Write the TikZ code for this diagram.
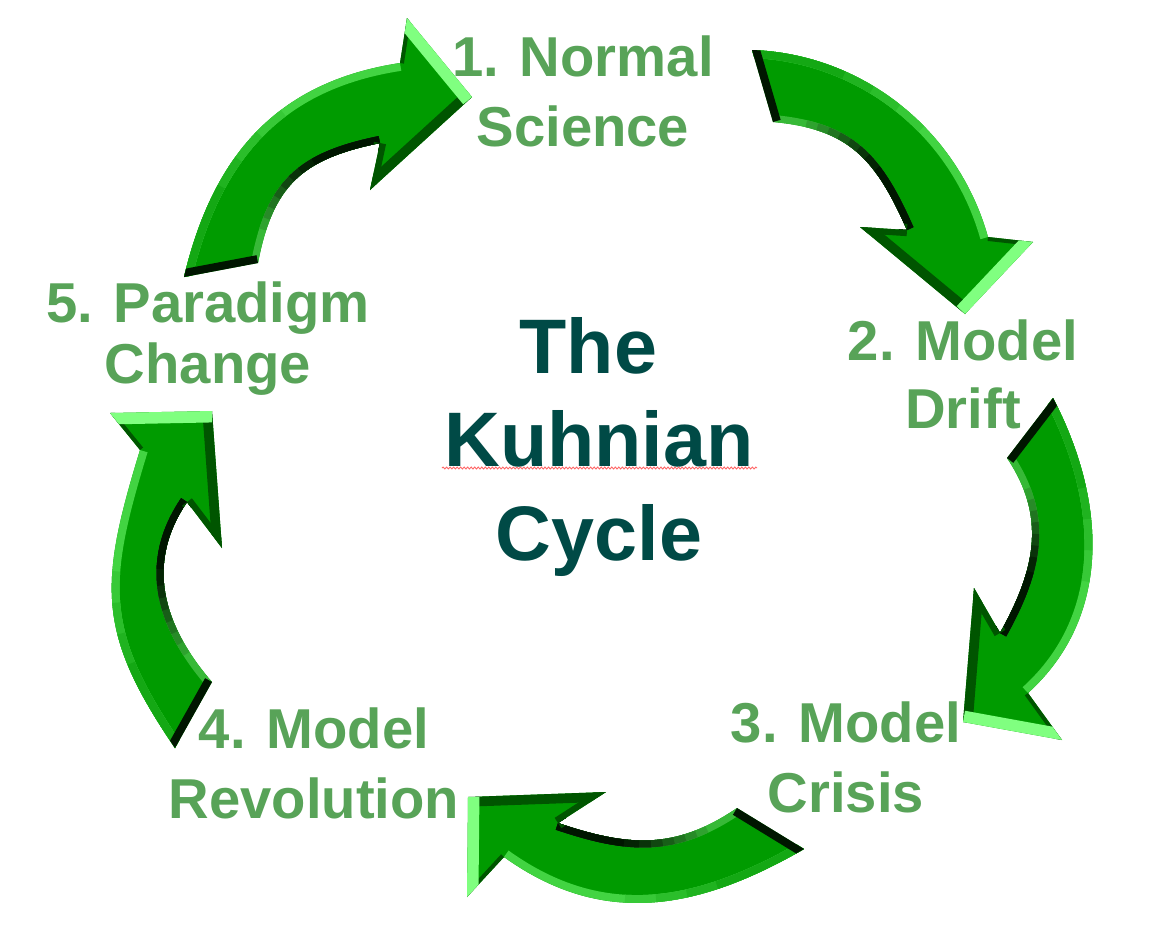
\documentclass[tikz,border=0pt]{standalone}
\usepackage{fontspec}
\setmainfont{Liberation Sans}
\usetikzlibrary{decorations.pathmorphing}
\definecolor{gmain}{RGB}{0,155,0}
\definecolor{glight}{RGB}{128,255,128}
\definecolor{gouter}{RGB}{66,212,66}
\definecolor{gouterdim}{RGB}{20,168,20}
\definecolor{ginA}{RGB}{55,185,55}
\definecolor{ginD}{RGB}{0,22,0}
\definecolor{gdark}{RGB}{0,85,0}
\definecolor{gtail}{RGB}{0,22,0}
\definecolor{labelgreen}{RGB}{88,163,88}
\definecolor{titleteal}{RGB}{0,74,70}
% #1 prefix, #2 inner edge length (pt), #3 outer edge length (pt)
\newcommand\kuhnarrow[3]{%
  \fill[gmain] (#1To) .. controls (#1C1) and (#1C2) .. (#1Ho) -- (#1Ob) -- (#1Tip) -- (#1Ib) -- (#1Hi) .. controls (#1D1) and (#1D2) .. (#1Ti) -- cycle;
  \begin{scope}
    \clip (#1To) .. controls (#1C1) and (#1C2) .. (#1Ho) -- (#1Ob) -- (#1Tip) -- (#1Ib) -- (#1Hi) .. controls (#1D1) and (#1D2) .. (#1Ti) -- cycle;
    \draw[gouter, line width=9pt] (#1To) .. controls (#1C1) and (#1C2) .. (#1Ho);
    \foreach \kf/\kp in {0.60/25, 0.50/50, 0.40/75, 0.30/100} {
      \pgfmathsetmacro\kuhnL{\kf*#3}
      \draw[gouterdim!\kp!gouter, line width=9pt, dash pattern=on \kuhnL pt off 3000pt] (#1To) .. controls (#1C1) and (#1C2) .. (#1Ho);
    }
    \draw[ginA, line width=8pt] (#1Hi) .. controls (#1D1) and (#1D2) .. (#1Ti);
    \foreach \kf/\kp in {0.80/14, 0.74/28, 0.68/42, 0.62/56, 0.56/70, 0.50/82, 0.44/92, 0.36/100} {
      \pgfmathsetmacro\kuhnL{\kf*#2}
      \draw[ginD!\kp!ginA, line width=8pt, dash pattern=on \kuhnL pt off 3000pt] (#1Hi) .. controls (#1D1) and (#1D2) .. (#1Ti);
    }
    \draw[gtail, line width=9pt] (#1Ti) -- (#1To);
    \draw[gdark, line width=4.5pt] (#1Ho) -- (#1Ob);
    \draw[gdark, line width=7pt] (#1Ib) -- (#1Hi);
    \draw[gdark, line width=11pt] (#1Tip) -- (#1Ib);
    \draw[glight, line width=13pt] (#1Ob) -- (#1Tip);
  \end{scope}}
\tikzset{
  stagelabel/.style={text=labelgreen, align=center, anchor=base, inner sep=0pt},
  cycletitle/.style={text=titleteal, align=center, anchor=base, inner sep=0pt,
    font=\fontsize{44pt}{53.2pt}\selectfont\bfseries},
}
\begin{document}
\begin{tikzpicture}[x=0.02cm, y=-0.02cm]
\fill[white] (0,0) rectangle (1163,931);
\useasboundingbox (0,0) rectangle (1163,931);
% arrow 1: Paradigm Change -> Normal Science
\coordinate (aTo) at (184,277); \coordinate (aC1) at (213,156); \coordinate (aC2) at (276,82);
\coordinate (aHo) at (400,63); \coordinate (aOb) at (407,18); \coordinate (aTip) at (472,97);
\coordinate (aIb) at (370,190); \coordinate (aHi) at (380,143); \coordinate (aD1) at (302,159);
\coordinate (aD2) at (273,185); \coordinate (aTi) at (258,263);
% arrow 2: Normal Science -> Model Drift
\coordinate (bTo) at (752,50); \coordinate (bC1) at (863,54); \coordinate (bC2) at (958,130);
\coordinate (bHo) at (988,237); \coordinate (bOb) at (1033,242); \coordinate (bTip) at (965,314);
\coordinate (bIb) at (860,227); \coordinate (bHi) at (907,230); \coordinate (bD1) at (876,160);
\coordinate (bD2) at (850,129); \coordinate (bTi) at (773,122);
% arrow 3: Model Drift -> Model Crisis
\coordinate (cTo) at (1053,398); \coordinate (cC1) at (1106,500); \coordinate (cC2) at (1113,616);
\coordinate (cHo) at (1028,693); \coordinate (cOb) at (1062,740); \coordinate (cTip) at (963,722);
\coordinate (cIb) at (974,588); \coordinate (cHi) at (1000,633); \coordinate (cD1) at (1035,570);
\coordinate (cD2) at (1047,518); \coordinate (cTi) at (1007,458);
% arrow 4: Model Crisis -> Model Revolution
\coordinate (dTo) at (804,849); \coordinate (dC1) at (698,910); \coordinate (dC2) at (603,928);
\coordinate (dHo) at (504,857); \coordinate (dOb) at (467,897); \coordinate (dTip) at (468,797);
\coordinate (dIb) at (606,792); \coordinate (dHi) at (558,823); \coordinate (dD1) at (629,847);
\coordinate (dD2) at (675,850); \coordinate (dTi) at (737,808);
% arrow 5: Model Revolution -> Paradigm Change
\coordinate (eTo) at (175,748); \coordinate (eC1) at (96,632); \coordinate (eC2) at (99,584);
\coordinate (eHo) at (140,450); \coordinate (eOb) at (110,413); \coordinate (eTip) at (212,411);
\coordinate (eIb) at (222,548); \coordinate (eHi) at (187,502); \coordinate (eD1) at (145,564);
\coordinate (eD2) at (163,625); \coordinate (eTi) at (212,682);
\kuhnarrow{a}{108.7}{187}
\kuhnarrow{b}{107.5}{183}
\kuhnarrow{c}{107}{181}
\kuhnarrow{d}{108}{180}
\kuhnarrow{e}{114}{182}
% labels (anchored at the baseline of the last line)
\node[stagelabel, font=\fontsize{32pt}{39.3pt}\selectfont\bfseries] (s1) at (583,146) {1. Normal\\Science};
\node[stagelabel, font=\fontsize{32pt}{38.7pt}\selectfont\bfseries] (s2) at (963,428) {2. Model\\Drift};
\node[stagelabel, font=\fontsize{32pt}{39.3pt}\selectfont\bfseries] (s3) at (846,812) {3. Model\\Crisis};
\node[stagelabel, font=\fontsize{32pt}{39.8pt}\selectfont\bfseries] (s4) at (314,818) {4. Model\\Revolution};
\node[stagelabel, font=\fontsize{32pt}{34.5pt}\selectfont\bfseries] (s5) at (208,383) {5. Paradigm\\Change};
% title
\node[cycletitle] (title) at (599,560) {The\kern0.278em\\Kuhnian\\Cycle};
\coordinate (wl) at (442,468);
\coordinate (wr) at (757,468);
\draw[red!60, line width=0.5pt, decorate, decoration={snake, amplitude=0.55pt, segment length=2pt}] (wl) -- (wr);
\end{tikzpicture}
\end{document}
